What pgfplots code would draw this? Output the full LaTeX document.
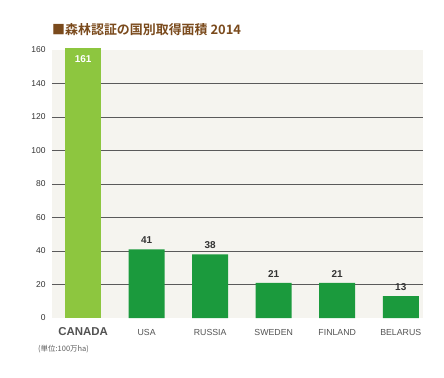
\documentclass[border=0pt]{standalone}
\usepackage{pgfplots}
\pgfplotsset{compat=1.18}
\usepackage{fontspec}
\setmainfont{Liberation Sans}
\newfontfamily\cjk{Noto Sans CJK JP}[BoldFont={Noto Sans CJK JP Bold}]
\definecolor{bgcol}{HTML}{F5F4EF}
\definecolor{lgreen}{HTML}{8DC63F}
\definecolor{dgreen}{HTML}{1B9A3D}
\definecolor{brown}{HTML}{7A4A1C}
\definecolor{gridc}{HTML}{5A5A5A}
\definecolor{txt}{HTML}{333333}
\begin{document}
\begin{tikzpicture}
\path[use as bounding box] (-52bp,-60bp) rectangle (392bp,318bp);
\begin{axis}[
  scale only axis,
  width=371bp, height=268bp,
  at={(0,0)}, anchor=south west,
  xmin=-0.49, xmax=5.35,
  ymin=0, ymax=160,
  clip=false,
  axis background/.style={fill=bgcol},
  axis line style={draw=none},
  major tick length=0pt,
  ytick={20,40,...,140},
  extra y ticks={0,160},
  extra y tick style={grid=none},
  ymajorgrids,
  grid style={gridc, line width=0.8pt},
  yticklabel style={font=\fontsize{8.5}{9}\selectfont, text=txt, xshift=-3bp},
  /pgf/number format/assume math mode=true,
  xtick={0,1,2,3,4,5},
  xticklabels={{\fontsize{11.5}{13}\selectfont\bfseries CANADA},USA,RUSSIA,SWEDEN,FINLAND,BELARUS},
  xticklabel style={font=\fontsize{8.8}{10}\selectfont, text=txt!85, anchor=center, yshift=-14bp},
  ybar, bar width=36bp, bar shift=0pt,
]
\addplot[fill=lgreen, draw=none,
  nodes near coords, nodes near coords align={below},
  every node near coord/.append style={font=\fontsize{10}{11}\selectfont\bfseries, text=white, yshift=-4bp}]
  coordinates {(0,161)};
\addplot[fill=dgreen, draw=none,
  nodes near coords,
  every node near coord/.append style={font=\fontsize{10}{11}\selectfont\bfseries, text=txt, yshift=2bp}]
  coordinates {(1,41) (2,38) (3,21) (4,21) (5,13)};
\node[anchor=west, text=brown, font=\cjk\bfseries\fontsize{13}{15}\selectfont, inner sep=0pt] at (rel axis cs:0,1) [yshift=20bp] {■森林認証の国別取得面積 2014};
\node[anchor=west, text=txt!80, font=\cjk\fontsize{7.5}{9}\selectfont, inner sep=0pt] at (-14bp,-31bp) {(単位:100万ha)};
\end{axis}
\end{tikzpicture}
\end{document}
